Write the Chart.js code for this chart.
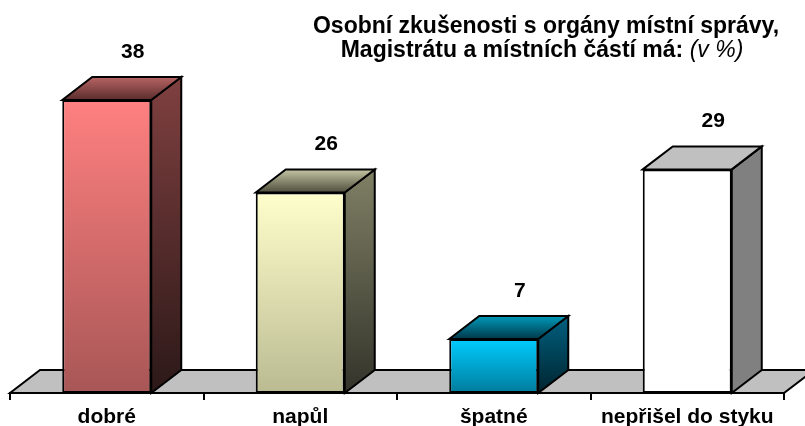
<!DOCTYPE html>
<html>
<head>
<meta charset="utf-8">
<script src="https://cdn.jsdelivr.net/npm/chart.js@4/dist/chart.umd.min.js"></script>
<style>
  html, body { margin: 0; padding: 0; background: #fff; }
  #wrap { width: 805px; height: 426px; }
</style>
</head>
<body>
<div id="wrap"><canvas id="c" width="805" height="426"></canvas></div>
<script>
var categories = ['dobré', 'napůl', 'špatné', 'nepřišel do styku'];
var values = [38, 26, 7, 29];
var yMax = 40;

var titleLine1 = 'Osobní zkušenosti s orgány místní správy,';
var titleLine2 = 'Magistrátu a místních částí má: ';
var titleUnit = '(v %)';

// colours of the three visible faces, one per bar
var frontTop    = ['#FF8080', '#FFFFCC', '#00CCFF', '#FFFFFF'];
var frontBottom = ['#A85656', '#BBBB93', '#007C9C', '#FFFFFF'];
var sideTop     = ['#804040', '#808066', '#006080', '#808080'];
var sideBottom  = ['#2C1818', '#33332A', '#00242F', '#808080'];
var topBack     = ['#B86464', '#C4C4A4', '#009ABA', '#C0C0C0'];
var topFront    = ['#5A2C2C', '#4E4E3C', '#00384A', '#C0C0C0'];

var FONT = "'Liberation Sans', Arial, sans-serif";
var DX = 30, DY = -23;

function grad(ctx, y0, y1, c0, c1) {
	var g = ctx.createLinearGradient(0, y0, 0, y1);
	g.addColorStop(0, c0);
	g.addColorStop(1, c1);
	return g;
}

function poly(ctx, pts, fill) {
	ctx.beginPath();
	ctx.moveTo(pts[0][0], pts[0][1]);
	for (var i = 1; i < pts.length; i++) ctx.lineTo(pts[i][0], pts[i][1]);
	ctx.closePath();
	ctx.fillStyle = fill;
	ctx.fill();
	ctx.lineWidth = 2;
	ctx.strokeStyle = '#000';
	ctx.lineJoin = 'miter';
	ctx.stroke();
}

// floor, side and top faces of the bars
var depthPlugin = {
	id: 'depth',
	beforeDatasetsDraw: function(chart) {
		var ctx = chart.ctx, ca = chart.chartArea;
		ctx.save();
		poly(ctx, [[ca.left, ca.bottom], [ca.right, ca.bottom], [ca.right + DX, ca.bottom + DY], [ca.left + DX, ca.bottom + DY]], '#C0C0C0');
		var bars = chart.getDatasetMeta(0).data;
		for (var i = 0; i < bars.length; i++) {
			var b = bars[i].getProps(['x', 'y', 'base', 'width'], true);
			var l = b.x - b.width / 2, r = b.x + b.width / 2;
			poly(ctx, [[r, b.y], [r + DX, b.y + DY], [r + DX, b.base + DY], [r, b.base]],
				grad(ctx, b.y + DY, b.base, sideTop[i], sideBottom[i]));
			poly(ctx, [[l, b.y], [l + DX, b.y + DY], [r + DX, b.y + DY], [r, b.y]],
				grad(ctx, b.y + DY, b.y, topBack[i], topFront[i]));
		}
		ctx.restore();
	},
	afterDatasetsDraw: function(chart) {
		var ctx = chart.ctx;
		var bars = chart.getDatasetMeta(0).data;
		ctx.save();
		ctx.fillStyle = '#000';
		ctx.font = 'bold 21px ' + FONT;
		ctx.textAlign = 'center';
		ctx.textBaseline = 'middle';
		for (var i = 0; i < bars.length; i++) {
			ctx.fillText(String(values[i]), bars[i].x + 26, bars[i].y + DY - 25);
		}
		ctx.restore();
	},
	afterDraw: function(chart) {
		var ctx = chart.ctx;
		ctx.save();
		ctx.fillStyle = '#000';
		ctx.textBaseline = 'alphabetic';
		ctx.textAlign = 'left';
		ctx.font = 'bold 23px ' + FONT;
		var w1 = ctx.measureText(titleLine1).width;
		ctx.fillText(titleLine1, 546 - w1 / 2, 33);
		var w2 = ctx.measureText(titleLine2).width;
		ctx.font = 'italic 23px ' + FONT;
		var w3 = ctx.measureText(titleUnit).width;
		var x0 = 542 - (w2 + w3) / 2;
		ctx.font = 'bold 23px ' + FONT;
		ctx.fillText(titleLine2, x0, 57);
		ctx.font = 'italic 23px ' + FONT;
		ctx.fillText(titleUnit, x0 + w2, 57);
		ctx.restore();
	}
};

new Chart(document.getElementById('c'), {
	type: 'bar',
	data: {
		labels: categories,
		datasets: [{
			data: values,
			backgroundColor: function(c) {
				var chart = c.chart, ca = chart.chartArea;
				if (c.dataIndex === undefined) return '#fff';
				if (!ca || !chart.scales.y) return frontTop[c.dataIndex];
				var y = chart.scales.y.getPixelForValue(values[c.dataIndex]);
				return grad(chart.ctx, y, ca.bottom, frontTop[c.dataIndex], frontBottom[c.dataIndex]);
			},
			borderColor: '#000',
			borderWidth: 2,
			borderSkipped: false,
			categoryPercentage: 1,
			barPercentage: 0.46
		}]
	},
	options: {
		responsive: false,
		animation: false,
		layout: { padding: { left: 10, right: 21, top: 84.6, bottom: 0 } },
		plugins: {
			legend: { display: false },
			title: { display: false },
			tooltip: { enabled: false }
		},
		scales: {
			y: { display: false, min: 0, max: yMax },
			x: {
				afterFit: function(scale) { scale.height = 33; },
				grid: { offset: true, drawOnChartArea: false, color: '#000', lineWidth: 2, tickLength: 7 },
				border: { display: true, color: '#000', width: 2 },
				ticks: {
					color: '#000',
					maxRotation: 0,
					autoSkip: false,
					padding: 7,
					font: { family: FONT, size: 21, weight: 'bold', lineHeight: 1.0 }
				}
			}
		}
	},
	plugins: [depthPlugin]
});
</script>
</body>
</html>
